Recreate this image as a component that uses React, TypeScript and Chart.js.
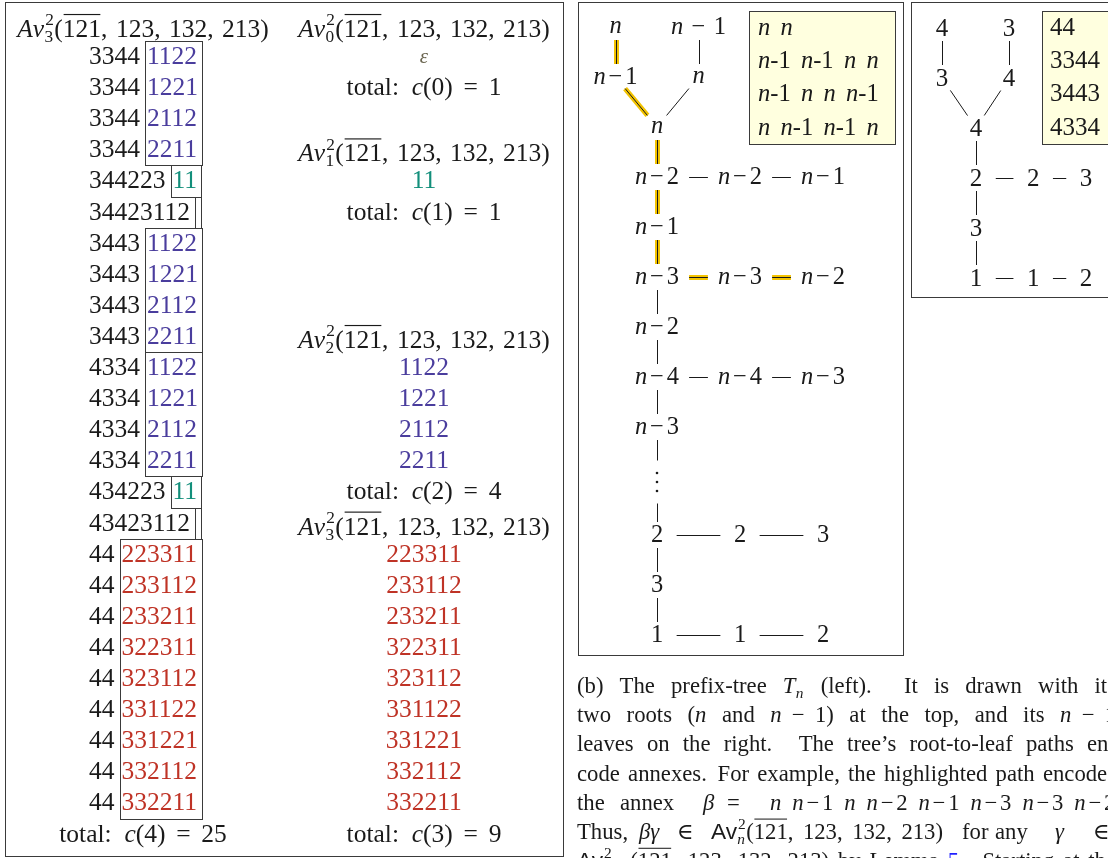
import React, { useEffect, useRef } from 'react';
import { Chart, registerables } from 'chart.js';

Chart.register(...registerables);

const W = 1108;
const H = 858;

// ---------------- data ----------------
const PATTERN_PARTS = ['121', '123', '132', '213'];
const AV_WORDS_0 = [''];
const AV_WORDS_1 = ['11'];
const AV_WORDS_2 = ['1122', '1221', '2112', '2211'];
const AV_WORDS_3 = ['223311', '233112', '233211', '322311', '323112', '331122', '331221', '332112', '332211'];
const COUNTS = [1, 1, 4, 9, 25];
const LEFT_PREFIXES = ['3344', '344223', '34423112', '3443', '4334', '434223', '43423112', '44'];
const LEFT_LEVELS = [2, 1, 0, 2, 2, 1, 0, 3];
const LEFT_TITLE_SUB = '3';
const LEFT_TOTAL_N = 4;

const TN_NODES = [
  { id: 'r1', label: 'n', col: -0.5, row: 0 },
  { id: 'r2', label: 'n − 1', col: 0.5, row: 0 },
  { id: 'a1', label: 'n−1', col: -0.5, row: 1 },
  { id: 'a2', label: 'n', col: 0.5, row: 1 },
  { id: 'b', label: 'n', col: 0, row: 2 },
  { id: 'c', label: 'n−2', col: 0, row: 3 },
  { id: 'c1', label: 'n−2', col: 1, row: 3 },
  { id: 'c2', label: 'n−1', col: 2, row: 3 },
  { id: 'd', label: 'n−1', col: 0, row: 4 },
  { id: 'e', label: 'n−3', col: 0, row: 5 },
  { id: 'e1', label: 'n−3', col: 1, row: 5 },
  { id: 'e2', label: 'n−2', col: 2, row: 5 },
  { id: 'f', label: 'n−2', col: 0, row: 6 },
  { id: 'g', label: 'n−4', col: 0, row: 7 },
  { id: 'g1', label: 'n−4', col: 1, row: 7 },
  { id: 'g2', label: 'n−3', col: 2, row: 7 },
  { id: 'h', label: 'n−3', col: 0, row: 8 },
  { id: 'dots', label: '⋮', col: 0, row: 9.1 },
  { id: 'i', label: '2', col: 0, row: 10.16 },
  { id: 'i1', label: '2', col: 1, row: 10.16 },
  { id: 'i2', label: '3', col: 2, row: 10.16 },
  { id: 'j', label: '3', col: 0, row: 11.16 },
  { id: 'k', label: '1', col: 0, row: 12.16 },
  { id: 'k1', label: '1', col: 1, row: 12.16 },
  { id: 'k2', label: '2', col: 2, row: 12.16 },
];
const TN_EDGES = [
  ['r1', 'a1'], ['r2', 'a2'], ['a1', 'b'], ['a2', 'b'], ['b', 'c'], ['c', 'c1'], ['c1', 'c2'],
  ['c', 'd'], ['d', 'e'], ['e', 'e1'], ['e1', 'e2'], ['e', 'f'], ['f', 'g'], ['g', 'g1'], ['g1', 'g2'],
  ['g', 'h'], ['h', 'dots'], ['dots', 'i'], ['i', 'i1'], ['i1', 'i2'], ['i', 'j'], ['j', 'k'], ['k', 'k1'], ['k1', 'k2'],
];
const TN_PATH = ['r1', 'a1', 'b', 'c', 'd', 'e', 'e1', 'e2'];
const TN_LEGEND = ['n n', 'n-1 n-1 n n', 'n-1 n n n-1', 'n n-1 n-1 n'];

const T4_NODES = [
  { id: 'r1', label: '4', col: -0.62, row: 0 },
  { id: 'r2', label: '3', col: 0.6, row: 0 },
  { id: 'a1', label: '3', col: -0.62, row: 1 },
  { id: 'a2', label: '4', col: 0.6, row: 1 },
  { id: 'b', label: '4', col: 0, row: 2 },
  { id: 'c', label: '2', col: 0, row: 3 },
  { id: 'c1', label: '2', col: 1.04, row: 3 },
  { id: 'c2', label: '3', col: 2, row: 3 },
  { id: 'd', label: '3', col: 0, row: 4 },
  { id: 'e', label: '1', col: 0, row: 5 },
  { id: 'e1', label: '1', col: 1.04, row: 5 },
  { id: 'e2', label: '2', col: 2, row: 5 },
];
const T4_EDGES = [
  ['r1', 'a1'], ['r2', 'a2'], ['a1', 'b'], ['a2', 'b'], ['b', 'c'], ['c', 'c1'], ['c1', 'c2'],
  ['c', 'd'], ['d', 'e'], ['e', 'e1'], ['e1', 'e2'],
];
const T4_LEGEND = ['44', '3344', '3443', '4334'];

// ---------------- styles / layout ----------------
const BLUE = '#4a3d9d';
const TEAL = '#138f7b';
const RED = '#bf3326';
const EPS = '#6b6650';
const HL = '#f3c300';
const INK = '#1a1a1a';
const FRAME = '#3a3a3a';
const LEGEND_BG = '#ffffdf';
const LINK = '#1f1fff';

type St = 'rm' | 'it' | 'sf';
interface Seg {
  t?: string; st?: St; gap?: number; ov?: boolean; c?: string;
  sup?: string; sub?: string; subSt?: St; supSt?: St;
}

const SERIF = '"Liberation Serif", "Times New Roman", "DejaVu Serif", serif';
const SANS = '"Liberation Sans", Arial, "DejaVu Sans", sans-serif';
const fnt = (st: St, px: number) => `${st === 'it' ? 'italic ' : ''}${px}px ${st === 'sf' ? SANS : SERIF}`;
const SCRIPT = 0.68;

function segW(ctx: CanvasRenderingContext2D, s: Seg, fs: number): number {
  if (s.gap !== undefined) return s.gap * fs;
  if (s.sup !== undefined || s.sub !== undefined) {
    const ss = fs * SCRIPT;
    let w = 0;
    if (s.sup) { ctx.font = fnt(s.supSt || 'rm', ss); w = Math.max(w, ctx.measureText(s.sup).width); }
    if (s.sub) { ctx.font = fnt(s.subSt || 'rm', ss); w = Math.max(w, ctx.measureText(s.sub).width); }
    return w + fs * 0.06;
  }
  ctx.font = fnt(s.st || 'rm', fs);
  return ctx.measureText(s.t || '').width;
}
function richW(ctx: CanvasRenderingContext2D, segs: Seg[], fs: number) {
  return segs.reduce((a, s) => a + segW(ctx, s, fs), 0);
}
function drawRich(ctx: CanvasRenderingContext2D, segs: Seg[], x: number, y: number, fs: number,
  align: 'left' | 'center' | 'right' = 'left', color = INK) {
  const w = richW(ctx, segs, fs);
  let cx = align === 'center' ? x - w / 2 : align === 'right' ? x - w : x;
  ctx.textAlign = 'left';
  ctx.textBaseline = 'alphabetic';
  for (const s of segs) {
    const sw = segW(ctx, s, fs);
    if (s.gap === undefined) {
      ctx.fillStyle = s.c || color;
      if (s.sup !== undefined || s.sub !== undefined) {
        const ss = fs * SCRIPT;
        if (s.sup) { ctx.font = fnt(s.supSt || 'rm', ss); ctx.fillText(s.sup, cx + fs * 0.04, y - fs * 0.45); }
        if (s.sub) { ctx.font = fnt(s.subSt || 'rm', ss); ctx.fillText(s.sub, cx + fs * 0.01, y + fs * 0.2); }
      } else {
        ctx.font = fnt(s.st || 'rm', fs);
        ctx.fillText(s.t || '', cx, y);
        if (s.ov) ctx.fillRect(cx + fs * 0.03, y - fs * 0.9, sw - fs * 0.06, Math.max(1, fs * 0.045));
      }
    }
    cx += sw;
  }
  return w;
}

function avSegs(sub: string, sans = false, gap = 0.33): Seg[] {
  const segs: Seg[] = sans ? [{ t: 'Av', st: 'sf' }] : [{ t: 'A', st: 'it' }, { t: 'v', st: 'it' }];
  segs.push({ sup: '2', sub, subSt: /[a-z]/.test(sub) ? 'it' : 'rm' });
  segs.push({ t: '(' });
  PATTERN_PARTS.forEach((p, i) => {
    if (i > 0) { segs.push({ t: ',' }); segs.push({ gap }); }
    segs.push({ t: p, ov: i === 0 });
  });
  segs.push({ t: ')' });
  return segs;
}
function totalSegs(n: number, c: number): Seg[] {
  return [{ t: 'total:' }, { gap: 0.5 }, { t: 'c', st: 'it' }, { t: `(${n})` }, { gap: 0.42 }, { t: '=' }, { gap: 0.42 }, { t: String(c) }];
}
function mathSegs(label: string, pad = 0.12, space = 0.22): Seg[] {
  const out: Seg[] = [];
  for (const ch of label) {
    if (ch === ' ') out.push({ gap: space });
    else if (/[a-z]/.test(ch)) out.push({ t: ch, st: 'it' });
    else if (ch === '−') { out.push({ gap: pad }); out.push({ t: '−' }); out.push({ gap: pad }); }
    else out.push({ t: ch });
  }
  return out;
}

const LEVEL_WORDS = [AV_WORDS_0, AV_WORDS_1, AV_WORDS_2, AV_WORDS_3];
const LEVEL_COLORS = [INK, TEAL, BLUE, RED];

const FS = 25.5;
const ROW0 = 64;
const PITCH = 31.1;
const rowY = (k: number) => ROW0 + PITCH * k;
const LEFT_X0 = 89;
const LEFT_CX = 143;
const MID_CX = 424;
const MID_TITLE_ROWS = [-1, 3, 9, 15];

const TN_MAP = { x0: 657, ux: 83, y0: 27, uy: 50, fs: 24.5 };
const T4_MAP = { x0: 976, ux: 55, y0: 28, uy: 50, fs: 25 };

// caption
const CAP_FS = 22.7;
const CAP_Y0 = 693;
const CAP_PITCH = 29.2;
const R = (t: string, c?: string): Seg => ({ t, c });
const I = (t: string): Seg => ({ t, st: 'it' });
const G = (g: number): Seg => ({ gap: g });

const CAP_JUSTIFIED: { line: number; tokens: Seg[][]; weights: number[] }[] = [
  {
    line: 0,
    tokens: [[R('(b)')], [R('The')], [R('prefix-tree')], [I('T'), { sub: 'n', subSt: 'it' }], [R('(left).')], [R('It')], [R('is')], [R('drawn')], [R('with')], [R('its')]],
    weights: [1, 1, 1, 1, 2, 1, 1, 1, 1],
  },
  {
    line: 1,
    tokens: [[R('two')], [R('roots')], [R('('), I('n')], [R('and')], [I('n'), G(0.45), R('−'), G(0.45), R('1)')], [R('at')], [R('the')], [R('top,')], [R('and')], [R('its')], [I('n'), G(0.45), R('−'), G(0.45), R('1')]],
    weights: [1, 1, 1, 1, 1, 1, 1, 1, 1, 1],
  },
  {
    line: 2,
    tokens: [[R('leaves')], [R('on')], [R('the')], [R('right.')], [R('The')], [R('tree’s')], [R('root-to-leaf')], [R('paths')], [R('en-')]],
    weights: [1, 1, 1, 2, 1, 1, 1, 1],
  },
  {
    line: 3,
    tokens: [[R('code')], [R('annexes.')], [R('For')], [R('example,')], [R('the')], [R('highlighted')], [R('path')], [R('encodes')]],
    weights: [1, 1.3, 1, 1, 1, 1, 1],
  },
  {
    line: 6,
    tokens: [avSegs('n−2', true, 0.45), [R('by')], [R('Lemma')], [R('5', LINK), R('.')], [R('Starting')], [R('at')], [R('the')]],
    weights: [1, 1, 1, 2, 1, 1],
  },
];
const CAP_RIGHT = 1116;

const figurePlugin = {
  id: 'figure',
  afterDatasetsDraw(chart: any) {
    const ctx: CanvasRenderingContext2D = chart.ctx;
    const xs = chart.scales.x;
    const ys = chart.scales.y;
    const X = (v: number) => xs.getPixelForValue(v);
    const Y = (v: number) => ys.getPixelForValue(v);
    const crispRect = (x0: number, y0: number, x1: number, y1: number, fill?: string) => {
      const a = Math.round(X(x0)) + 0.5, b = Math.round(Y(y0)) + 0.5;
      const c = Math.round(X(x1)) + 0.5, d = Math.round(Y(y1)) + 0.5;
      if (fill) { ctx.fillStyle = fill; ctx.fillRect(a, b, c - a, d - b); }
      ctx.strokeRect(a, b, c - a, d - b);
    };
    ctx.save();
    ctx.lineWidth = 1;
    ctx.strokeStyle = FRAME;

    // ---------- panel frames ----------
    crispRect(5, 2, 563, 856);
    crispRect(578, 2, 903, 655);
    crispRect(911, 2, 1125, 297);

    // ---------- left column ----------
    drawRich(ctx, avSegs(LEFT_TITLE_SUB), X(LEFT_CX), Y(rowY(-1) + 4), FS, 'center');
    let k = 0;
    LEFT_PREFIXES.forEach((pre, b) => {
      const lvl = LEFT_LEVELS[b];
      const words = LEVEL_WORDS[lvl];
      ctx.font = fnt('rm', FS);
      const pw = ctx.measureText(pre).width;
      const bl = LEFT_X0 + pw + 5;
      const maxw = Math.max(...words.map((w) => ctx.measureText(w).width));
      const br = bl + 2 + maxw + 4;
      words.forEach((w, j) => {
        const y = rowY(k + j);
        drawRich(ctx, [{ t: pre }], X(LEFT_X0), Y(y), FS, 'left', INK);
        if (w) drawRich(ctx, [{ t: w }], X(bl + 2), Y(y), FS, 'left', LEVEL_COLORS[lvl]);
      });
      const top = rowY(k) - 23;
      ctx.strokeStyle = FRAME;
      crispRect(bl, top, br, top + PITCH * words.length);
      k += words.length;
    });
    drawRich(ctx, totalSegs(LEFT_TOTAL_N, COUNTS[LEFT_TOTAL_N]), X(LEFT_CX), Y(rowY(k)), FS, 'center');

    // ---------- middle column ----------
    MID_TITLE_ROWS.forEach((tr, L) => {
      drawRich(ctx, avSegs(String(L)), X(MID_CX), Y(rowY(tr) + 4), FS, 'center');
      const words = LEVEL_WORDS[L];
      words.forEach((w, j) => {
        if (w === '') drawRich(ctx, [{ t: 'ε', st: 'it' }], X(MID_CX), Y(rowY(tr + 1 + j) - 1), 21, 'center', EPS);
        else drawRich(ctx, [{ t: w }], X(MID_CX), Y(rowY(tr + 1 + j)), FS, 'center', LEVEL_COLORS[L]);
      });
      drawRich(ctx, totalSegs(L, COUNTS[L]), X(MID_CX), Y(rowY(tr + 1 + words.length)), FS, 'center');
    });

    // ---------- trees ----------
    const drawTree = (nodes: any[], edges: string[][], path: string[], m: any) => {
      const fs = m.fs;
      const pos: Record<string, any> = {};
      nodes.forEach((n) => {
        const segs = mathSegs(n.label);
        pos[n.id] = {
          x: X(m.x0 + m.ux * n.col), y: Y(m.y0 + m.uy * n.row), segs,
          w: n.label === '⋮' ? 4 : richW(ctx, segs, fs),
          half: n.label === '⋮' ? 21.5 : 13,
          digit: /[0-9]/.test(n.label), label: n.label,
        };
      });
      const onPath = (a: string, b: string) => {
        const i = path.indexOf(a);
        return i >= 0 && path[i + 1] === b;
      };
      edges.forEach(([a, b]) => {
        const A = pos[a], B = pos[b];
        let x1, y1, x2, y2;
        const gp = (p: any) => (p.w < fs * 0.7 ? 13.5 : 10);
        if (Math.abs(A.y - B.y) < 1) {
          x1 = A.x + A.w / 2 + gp(A); x2 = B.x - B.w / 2 - gp(B); y1 = y2 = Math.round(A.y) + 0.5;
        } else if (Math.abs(A.x - B.x) < 1) {
          x1 = x2 = Math.round(A.x) + 0.5; y1 = A.y + A.half; y2 = B.y - B.half;
        } else {
          const dx = B.x - A.x, dy = B.y - A.y, L = Math.hypot(dx, dy);
          x1 = A.x + (dx / L) * 15; y1 = A.y + (dy / L) * 15;
          x2 = B.x - (dx / L) * 15; y2 = B.y - (dy / L) * 15;
        }
        if (onPath(a, b)) {
          ctx.strokeStyle = HL; ctx.lineWidth = 5;
          ctx.beginPath(); ctx.moveTo(x1, y1); ctx.lineTo(x2, y2); ctx.stroke();
        }
        ctx.strokeStyle = INK; ctx.lineWidth = 1;
        ctx.beginPath(); ctx.moveTo(x1, y1); ctx.lineTo(x2, y2); ctx.stroke();
      });
      nodes.forEach((n) => {
        const p = pos[n.id];
        if (p.label === '⋮') {
          ctx.fillStyle = INK;
          [-9, 0, 9].forEach((d) => { ctx.beginPath(); ctx.arc(p.x, p.y + d, 1.3, 0, Math.PI * 2); ctx.fill(); });
        } else {
          drawRich(ctx, p.segs, p.x, p.y + (p.digit ? 0.3 : 0.25) * fs, fs, 'center');
        }
      });
    };
    drawTree(TN_NODES, TN_EDGES, TN_PATH, TN_MAP);
    drawTree(T4_NODES, T4_EDGES, [], T4_MAP);

    // ---------- legend boxes ----------
    ctx.strokeStyle = FRAME; ctx.lineWidth = 1;
    crispRect(749, 11, 895, 144, LEGEND_BG);
    crispRect(1042, 11, 1130, 144, LEGEND_BG);
    TN_LEGEND.forEach((s, i) => drawRich(ctx, mathSegs(s, 0, 0.42), X(758), Y(34.5 + 33.4 * i), 24.5));
    T4_LEGEND.forEach((s, i) => drawRich(ctx, mathSegs(s), X(1050), Y(34.5 + 33.4 * i), 25));

    // ---------- caption ----------
    CAP_JUSTIFIED.forEach(({ line, tokens, weights }) => {
      const y = Y(CAP_Y0 + CAP_PITCH * line);
      const ws = tokens.map((t) => richW(ctx, t, CAP_FS));
      const tot = ws.reduce((a, b) => a + b, 0);
      const wsum = weights.reduce((a, b) => a + b, 0);
      const unit = (X(CAP_RIGHT) - X(577) - tot) / wsum;
      let x = X(577);
      tokens.forEach((t, i) => {
        drawRich(ctx, t, x, y, CAP_FS);
        x += ws[i] + (i < weights.length ? unit * weights[i] : 0);
      });
    });
    // line 5: annex sequence derived from the highlighted path
    {
      const y = Y(CAP_Y0 + CAP_PITCH * 4);
      drawRich(ctx, [R('the')], X(577), y, CAP_FS);
      drawRich(ctx, [R('annex')], X(620), y, CAP_FS);
      drawRich(ctx, [I('β')], X(703), y, CAP_FS);
      drawRich(ctx, [R('=')], X(727), y, CAP_FS);
      let x = X(770);
      TN_PATH.forEach((id) => {
        const n = TN_NODES.find((q) => q.id === id)!;
        x += drawRich(ctx, mathSegs(n.label, 0.12), x, y, CAP_FS) + 11;
      });
    }
    // line 6
    {
      const y = Y(CAP_Y0 + CAP_PITCH * 5);
      drawRich(ctx, [R('Thus,')], X(577), y, CAP_FS);
      drawRich(ctx, [I('βγ')], X(639), y, CAP_FS);
      drawRich(ctx, [R('∈')], X(677), y, CAP_FS);
      drawRich(ctx, avSegs('n', true, 0.42), X(711), y, CAP_FS);
      drawRich(ctx, [R('for')], X(962), y, CAP_FS);
      drawRich(ctx, [R('any')], X(995), y, CAP_FS);
      drawRich(ctx, [I('γ')], X(1055), y, CAP_FS);
      drawRich(ctx, [R('∈')], X(1093), y, CAP_FS);
    }
    ctx.restore();
  },
};

export default function App() {
  const ref = useRef<HTMLCanvasElement>(null);
  useEffect(() => {
    const canvas = ref.current;
    if (!canvas) return;
    const chart = new Chart(canvas, {
      type: 'scatter',
      data: {
        datasets: [
          { label: 'Tn', data: TN_NODES.map((n) => ({ x: TN_MAP.x0 + TN_MAP.ux * n.col, y: TN_MAP.y0 + TN_MAP.uy * n.row })), pointRadius: 0, pointHoverRadius: 0 },
          { label: 'T4', data: T4_NODES.map((n) => ({ x: T4_MAP.x0 + T4_MAP.ux * n.col, y: T4_MAP.y0 + T4_MAP.uy * n.row })), pointRadius: 0, pointHoverRadius: 0 },
        ],
      },
      options: {
        responsive: false,
        animation: false,
        devicePixelRatio: 1,
        events: [],
        layout: { padding: 0, autoPadding: false },
        plugins: { legend: { display: false }, tooltip: { enabled: false }, title: { display: false } },
        scales: {
          x: { type: 'linear', min: 0, max: W, display: false, offset: false },
          y: { type: 'linear', min: 0, max: H, reverse: true, display: false, offset: false },
        },
      },
      plugins: [figurePlugin],
    } as any);
    return () => chart.destroy();
  }, []);
  return (
    <div style={{ position: 'fixed', left: 0, top: 0, width: W, height: H, background: '#fff', overflow: 'hidden' }}>
      <canvas ref={ref} width={W} height={H} style={{ display: 'block', width: W, height: H }} />
    </div>
  );
}
